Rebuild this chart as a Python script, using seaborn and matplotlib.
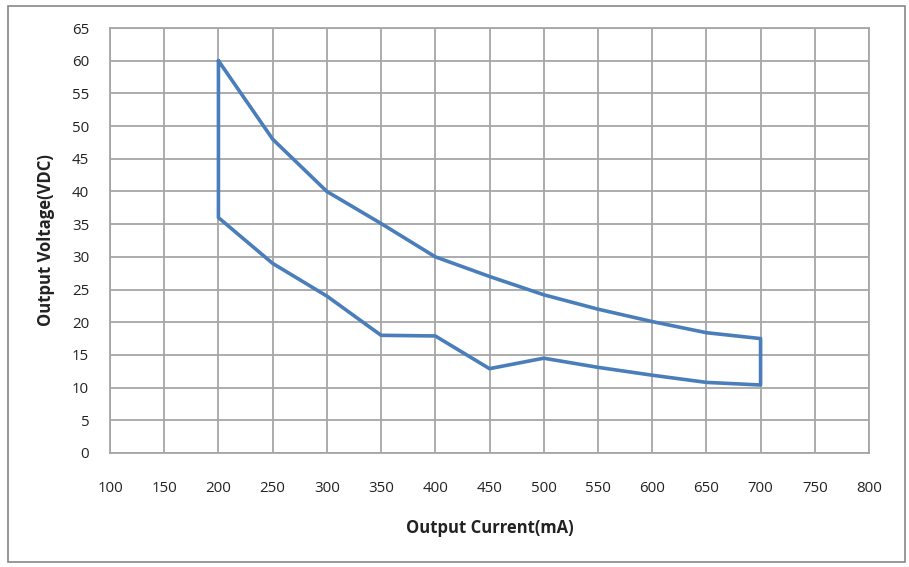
import matplotlib
matplotlib.use("Agg")
import matplotlib.pyplot as plt
import seaborn as sns
import pandas as pd
from matplotlib.patches import Rectangle

# Boundary of the operating area (closed path)
upper_current = [200, 250, 300, 350, 400, 450, 500, 550, 600, 650, 700]
upper_voltage = [60, 48, 40, 35.1, 30, 27, 24.2, 22, 20.1, 18.4, 17.5]
lower_current = [700, 650, 600, 550, 500, 450, 400, 350, 300, 250, 200]
lower_voltage = [10.4, 10.8, 11.9, 13.1, 14.5, 12.9, 17.9, 18, 24, 29, 36]

x_ticks = list(range(100, 801, 50))
y_ticks = list(range(0, 66, 5))

path_x = upper_current + lower_current + [upper_current[0]]
path_y = upper_voltage + lower_voltage + [upper_voltage[0]]
df = pd.DataFrame({"current": path_x, "voltage": path_y, "order": range(len(path_x))})

sns.set_style("white")
plt.rcParams["font.family"] = ["Open Sans", "DejaVu Sans"]

fig = plt.figure(figsize=(9.09, 5.67), dpi=100)
ax = fig.add_axes([110 / 909, 1 - 453 / 567, (869 - 110) / 909, (453 - 28) / 567])

sns.lineplot(data=df, x="current", y="voltage", sort=False, estimator=None,
             color="#4a7ebb", linewidth=2.6, ax=ax, zorder=3)

ax.set_xlim(100, 800)
ax.set_ylim(0, 65)
ax.set_xticks(x_ticks)
ax.set_yticks(y_ticks)
ax.set_xticklabels([str(v) for v in x_ticks], fontsize=10.8, color="#222222")
ax.set_yticklabels([str(v) for v in y_ticks], fontsize=10.8, color="#222222")
ax.tick_params(axis="both", length=0)
ax.tick_params(axis="x", pad=20)
ax.tick_params(axis="y", pad=15)
ax.grid(True, color="#a6a6a6", linewidth=1.3)
ax.set_axisbelow(True)
for s in ax.spines.values():
    s.set_color("#a6a6a6")
    s.set_linewidth(1.3)

ax.set_xlabel("Output Current(mA)", fontsize=12, fontweight="bold", labelpad=17, color="#222222")
ax.set_ylabel("Output Voltage(VDC)", fontsize=12, fontweight="bold", labelpad=12, color="#222222")

fig.patches.append(Rectangle((8 / 909, 1 - 562 / 567), (905 - 8) / 909, (562 - 6) / 567,
                             transform=fig.transFigure, fill=False,
                             edgecolor="#888888", linewidth=1.2))

fig.savefig("out.png", dpi=100)
